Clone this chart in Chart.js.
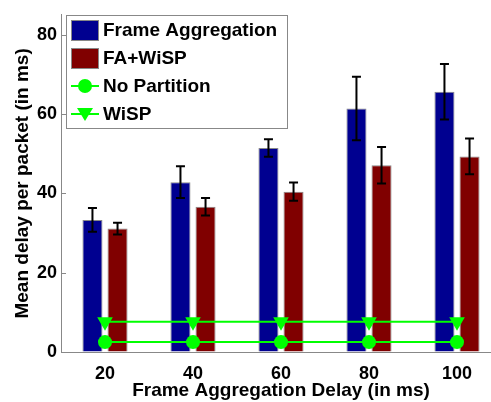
<!DOCTYPE html>
<html>
<head>
<meta charset="utf-8">
<script src="https://cdn.jsdelivr.net/npm/chart.js@4/dist/chart.umd.min.js"></script>
<style>
  html, body { margin: 0; padding: 0; background: #fff; overflow: hidden; }
  #wrap { width: 510px; height: 402px; }
</style>
</head>
<body>
<div id="wrap"><canvas id="chart" width="510" height="402"></canvas></div>
<script>
const categories = ["20", "40", "60", "80", "100"];
const faDelay = [33.3, 42.8, 51.4, 61.4, 65.6];
const faDelayErr = [3.0, 4.0, 2.2, 8.0, 7.0];
const wispDelay = [31.1, 36.6, 40.4, 47.1, 49.3];
const wispDelayErr = [1.5, 2.2, 2.3, 4.6, 4.5];
const noPartition = [2.5, 2.5, 2.5, 2.5, 2.5];
const wispOnly = [7.6, 7.6, 7.6, 7.6, 7.6];
const yTicks = [0, 20, 40, 60, 80];

const BLUE = "#000090";
const RED = "#800000";
const GREEN = "#00ff00";
const AXIS = "#888888";
const FONT = "'Liberation Sans', Arial, sans-serif";

// error bars on top of the bars
const errorBars = {
  id: "errorBars",
  afterDatasetsDraw(chart) {
    const ctx = chart.ctx;
    const y = chart.scales.y;
    ctx.save();
    ctx.strokeStyle = "#000";
    ctx.lineWidth = 2;
    chart.data.datasets.forEach((ds, i) => {
      if (!ds.errors) return;
      const meta = chart.getDatasetMeta(i);
      meta.data.forEach((bar, j) => {
        const v = ds.data[j], e = ds.errors[j];
        const top = y.getPixelForValue(v + e);
        const bot = y.getPixelForValue(v - e);
        const x = bar.x;
        ctx.beginPath();
        ctx.moveTo(x, top); ctx.lineTo(x, bot);
        ctx.moveTo(x - 4.5, top); ctx.lineTo(x + 4.5, top);
        ctx.moveTo(x - 4.5, bot); ctx.lineTo(x + 4.5, bot);
        ctx.stroke();
      });
    });
    ctx.restore();
  },
};

// matlab style inward ticks on y axis
const innerTicks = {
  id: "innerTicks",
  afterDraw(chart) {
    const ctx = chart.ctx;
    const y = chart.scales.y;
    const left = chart.chartArea.left;
    ctx.save();
    ctx.strokeStyle = AXIS;
    ctx.lineWidth = 1;
    yTicks.forEach((t) => {
      const py = Math.round(y.getPixelForValue(t)) + 0.5;
      ctx.beginPath();
      ctx.moveTo(left, py);
      ctx.lineTo(left + 5, py);
      ctx.stroke();
    });
    ctx.restore();
  },
};

// boxed legend inside the plot, top left
const boxLegend = {
  id: "boxLegend",
  afterDraw(chart) {
    const ctx = chart.ctx;
    const bx = 66, by = 15, bw = 221, bh = 113;
    ctx.save();
    ctx.fillStyle = "#fff";
    ctx.fillRect(bx, by, bw, bh);
    ctx.strokeStyle = AXIS;
    ctx.lineWidth = 1;
    ctx.strokeRect(bx + 0.5, by + 0.5, bw, bh);
    ctx.font = "bold 19px " + FONT;
    ctx.textBaseline = "middle";
    chart.data.datasets.forEach((ds, i) => {
      const cy = 30 + i * 28;
      if (ds.type === "line") {
        ctx.strokeStyle = GREEN;
        ctx.lineWidth = 2;
        ctx.beginPath();
        ctx.moveTo(71, cy); ctx.lineTo(99, cy);
        ctx.stroke();
        ctx.fillStyle = GREEN;
        ctx.beginPath();
        if (ds.pointStyle === "circle") {
          ctx.arc(85, cy, 7, 0, Math.PI * 2);
        } else {
          ctx.moveTo(77, cy - 6); ctx.lineTo(93, cy - 6); ctx.lineTo(85, cy + 7);
          ctx.closePath();
        }
        ctx.fill();
      } else {
        ctx.fillStyle = ds.backgroundColor;
        ctx.fillRect(71, cy - 10, 28, 21);
        ctx.strokeStyle = AXIS;
        ctx.strokeRect(71.5, cy - 9.5, 27, 20);
      }
      ctx.fillStyle = "#000";
      ctx.fillText(ds.label, 103, cy + 1);
    });
    ctx.restore();
  },
};

new Chart(document.getElementById("chart"), {
  type: "bar",
  data: {
    labels: categories,
    datasets: [
      {
        label: "Frame Aggregation",
        data: faDelay,
        errors: faDelayErr,
        backgroundColor: BLUE,
        borderColor: AXIS,
        borderWidth: 1,
        categoryPercentage: 0.57,
        barPercentage: 0.8,
        order: 2,
      },
      {
        label: "FA+WiSP",
        data: wispDelay,
        errors: wispDelayErr,
        backgroundColor: RED,
        borderColor: AXIS,
        borderWidth: 1,
        categoryPercentage: 0.57,
        barPercentage: 0.8,
        order: 2,
      },
      {
        type: "line",
        label: "No Partition",
        data: noPartition,
        borderColor: GREEN,
        backgroundColor: GREEN,
        borderWidth: 2,
        pointStyle: "circle",
        pointRadius: 7,
        pointBorderWidth: 0,
        order: 1,
      },
      {
        type: "line",
        label: "WiSP",
        data: wispOnly,
        borderColor: GREEN,
        backgroundColor: GREEN,
        borderWidth: 2,
        pointStyle: "triangle",
        pointRotation: 180,
        pointRadius: 9,
        pointBorderWidth: 0,
        order: 1,
      },
    ],
  },
  options: {
    responsive: false,
    animation: false,
    devicePixelRatio: 1,
    layout: { padding: { top: 9, right: 9, left: 0, bottom: 0 } },
    plugins: { legend: { display: false }, tooltip: { enabled: false } },
    scales: {
      x: {
        grid: { drawOnChartArea: false, drawTicks: false },
        border: { display: true, color: AXIS, width: 1 },
        ticks: { color: "#000", padding: 11, font: { family: FONT, size: 18, weight: "bold" } },
        title: {
          display: true,
          text: "Frame Aggregation Delay (in ms)",
          color: "#000",
          padding: { top: 0, bottom: 0 },
          font: { family: FONT, size: 19, weight: "bold" },
        },
        afterFit(scale) { scale.height = 50; },
      },
      y: {
        min: 0,
        max: 85,
        grid: { drawOnChartArea: false, drawTicks: false },
        border: { display: true, color: AXIS, width: 1 },
        ticks: {
          stepSize: 20,
          includeBounds: false,
          color: "#000",
          padding: 4,
          font: { family: FONT, size: 18, weight: "bold" },
        },
        title: {
          display: true,
          text: "Mean delay per packet (in ms)",
          color: "#000",
          padding: { top: 11, bottom: 0 },
          font: { family: FONT, size: 19, weight: "bold" },
        },
        afterFit(scale) { scale.width = 61; },
      },
    },
  },
  plugins: [errorBars, innerTicks, boxLegend],
});
</script>
</body>
</html>
